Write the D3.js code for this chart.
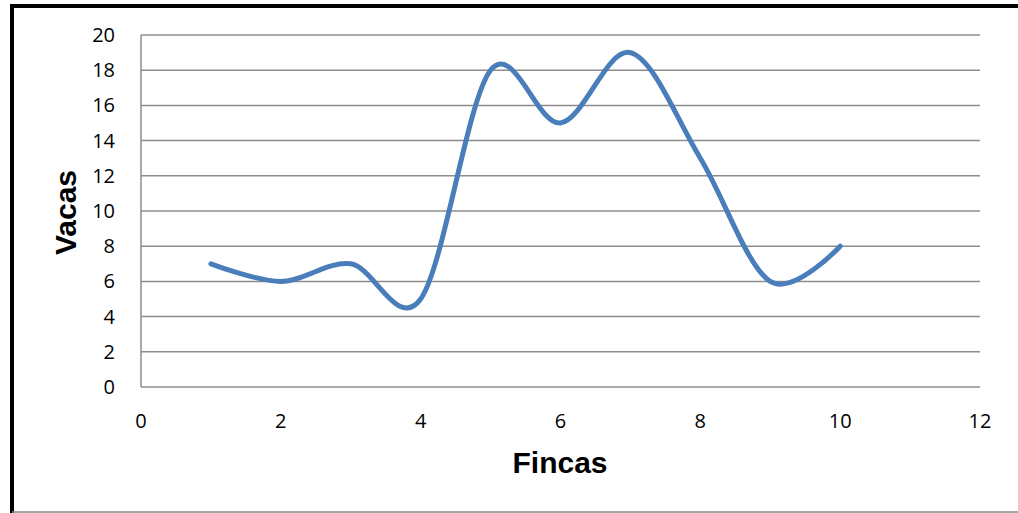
<!DOCTYPE html>
<html><head><meta charset="utf-8">
<script src="https://cdn.jsdelivr.net/npm/d3@7"></script>
<style>body{margin:0;background:#fff}svg{display:block}</style>
</head><body>
<svg id="c" width="1018" height="513"></svg>
<script>
const fincas = [1,2,3,4,5,6,7,8,9,10];
const vacas  = [7,6,7,5,18,15,19,13,6,8];
const xTicks = [0,2,4,6,8,10,12];
const yTicks = [0,2,4,6,8,10,12,14,16,18,20];

const svg = d3.select("#c");
const W=1018,H=513;
svg.append("line").attr("x1",12).attr("x2",W).attr("y1",6).attr("y2",6).attr("stroke","#000").attr("stroke-width",4);
svg.append("line").attr("x1",12).attr("x2",12).attr("y1",4).attr("y2",H).attr("stroke","#000").attr("stroke-width",4);
svg.append("line").attr("x1",12).attr("x2",W).attr("y1",H-1).attr("y2",H-1).attr("stroke","#888").attr("stroke-width",1.5);

const x = d3.scaleLinear().domain([0,12]).range([141,980]);
const y = d3.scaleLinear().domain([0,20]).range([387,35]);

svg.append("g").selectAll("line").data(yTicks).join("line")
  .attr("x1",x(0)).attr("x2",x(12)).attr("y1",d=>y(d)).attr("y2",d=>y(d))
  .attr("stroke","#8c8c8c").attr("stroke-width",1.5);
svg.append("line").attr("x1",x(0)).attr("x2",x(0)).attr("y1",y(20)).attr("y2",y(0))
  .attr("stroke","#8c8c8c").attr("stroke-width",1.5);

const font = "'Open Sans', 'Liberation Sans', sans-serif";
svg.append("g").selectAll("text").data(yTicks).join("text")
  .attr("x",115).attr("y",d=>y(d)).attr("dy","0.35em").attr("text-anchor","end")
  .attr("font-family",font).attr("font-size",20).attr("fill","#000").text(d=>d);
svg.append("g").selectAll("text").data(xTicks).join("text")
  .attr("x",d=>x(d)).attr("y",421).attr("dy","0.35em").attr("text-anchor","middle")
  .attr("font-family",font).attr("font-size",20).attr("fill","#000").text(d=>d);

svg.append("text").attr("x",560).attr("y",473).attr("text-anchor","middle")
  .attr("font-family","'Liberation Sans', Arial, sans-serif").attr("font-weight","bold")
  .attr("font-size",30).text("Fincas");
svg.append("text").attr("transform","translate(76,212.5) rotate(-90)").attr("text-anchor","middle")
  .attr("font-family","'Liberation Sans', Arial, sans-serif").attr("font-weight","bold")
  .attr("font-size",30).text("Vacas");

const data = fincas.map((f,i)=>[f,vacas[i]]);
const line = d3.line().x(d=>x(d[0])).y(d=>y(d[1])).curve(d3.curveCardinal.tension(0));
svg.append("path").datum(data).attr("d",line).attr("fill","none")
  .attr("stroke","#4a7ebb").attr("stroke-width",5).attr("stroke-linecap","round").attr("stroke-linejoin","round");
</script>
</body></html>
